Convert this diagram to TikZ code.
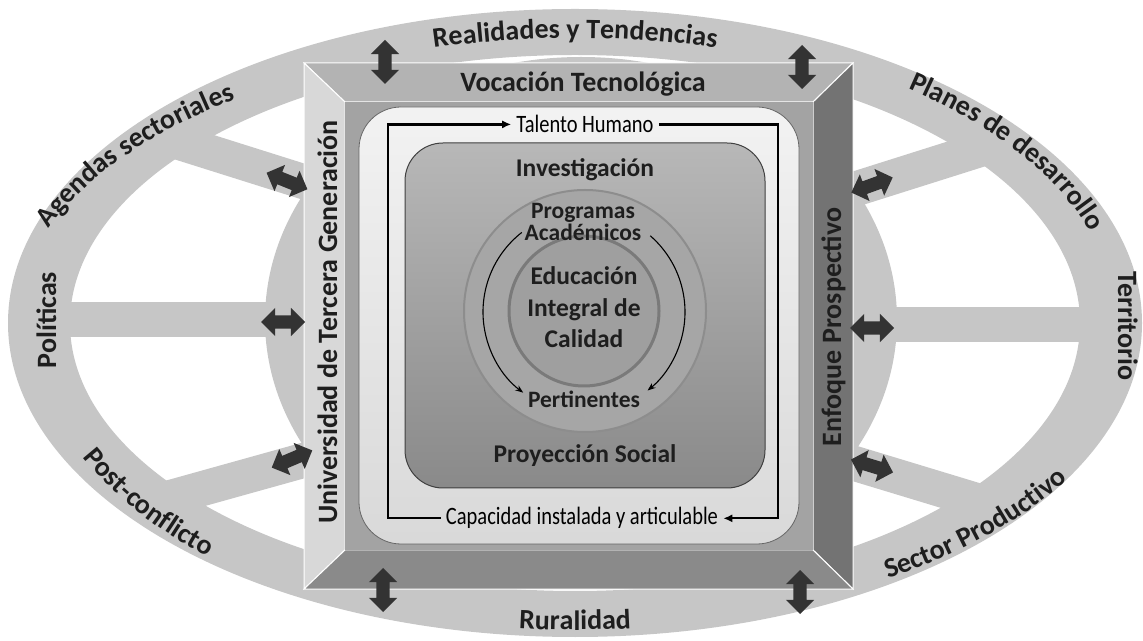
\documentclass[tikz,border=0pt]{standalone}
\usepackage{fontspec}
\setmainfont{Carlito}
\newfontfamily\condfont[FakeStretch=0.82]{Carlito}
\usetikzlibrary{shapes.arrows,decorations.text,arrows.meta}
\definecolor{ringgray}{HTML}{C6C6C6}
\definecolor{topbev}{HTML}{B3B3B3}
\definecolor{leftbev}{HTML}{D8D8D8}
\definecolor{rightbev}{HTML}{737373}
\definecolor{botbev}{HTML}{8A8A8A}
\definecolor{facegray}{HTML}{A3A3A3}
\definecolor{circgray}{HTML}{A6A6A6}
\definecolor{arrgray}{HTML}{333333}
\definecolor{txtgray}{HTML}{1E1E1E}
\newcommand\ringfnt{\fontsize{28}{30}\selectfont\bfseries}
\begin{document}
\begin{tikzpicture}[x=1pt,y=1pt,
	dblarr/.style={double arrow,fill=arrgray,minimum height=44pt,inner xsep=0pt,inner ysep=6.5pt,double arrow head extend=7.5pt},
	spoke/.style={ringgray,line width=35pt},
	bevel/.style={draw=white,line width=1pt},
	ringtxt/.style={font=\ringfnt,text=txtgray,inner sep=0pt},
	innertxt/.style={font=\fontsize{25.5}{31.5}\selectfont\bfseries,text=txtgray,inner sep=0pt,align=center},
	looptxt/.style={font=\condfont\fontsize{25}{30}\selectfont,text=black,inner sep=5pt},
	loopln/.style={line width=2.2pt,-{Latex[length=9pt,width=8pt]}}]
	\useasboundingbox (0,0) rectangle (1143,640);
	\draw[spoke] (40,320)--(330,320);
	\draw[spoke] (830,315)--(1105,315);
	\draw[spoke] (165,502)--(330,450);
	\draw[spoke] (165,141)--(330,187);
	\draw[spoke] (985,492)--(830,443);
	\draw[spoke] (985,137)--(830,184);
	\fill[ringgray] (581,320) ellipse[x radius=316,y radius=263];
	\fill[ringgray,even odd rule] (575,317) ellipse[x radius=567,y radius=314] (575,317) ellipse[x radius=505,y radius=268];
	\path[decorate,decoration={text along path,text align=center,text color=txtgray,text={|\ringfnt|Realidades y Tendencias}}] ([shift={(120:540 and 285)}]575,317) arc[start angle=120,end angle=60,x radius=540,y radius=285];
	\path[decorate,decoration={text along path,text align=center,text color=txtgray,text={|\ringfnt|Ruralidad}}] ([shift={(250:560 and 307)}]575,317) arc[start angle=250,end angle=290,x radius=560,y radius=307];
	\path[decorate,decoration={text along path,text color=txtgray,text={|\ringfnt|Agendas sectoriales}}] ([shift={(160.5:558 and 282)}]575,317) arc[start angle=160.5,end angle=100,x radius=558,y radius=282];
	\path[decorate,decoration={text along path,text color=txtgray,text={|\ringfnt|Planes de desarrollo}}] ([shift={(52:541 and 298)}]575,317) arc[start angle=52,end angle=-5,x radius=541,y radius=298];
	\path[decorate,decoration={text along path,text color=txtgray,text={|\ringfnt|Post-conflicto}}] ([shift={(205:543 and 318)}]575,317) arc[start angle=205,end angle=260,x radius=543,y radius=318];
	\path[decorate,decoration={text along path,text color=txtgray,text={|\ringfnt|Sector Productivo}}] ([shift={(-57:575 and 305)}]575,317) arc[start angle=-57,end angle=0,x radius=575,y radius=305];
	\node[ringtxt,rotate=90,anchor=base] (pol) at (56,320) {Políticas};
	\node[ringtxt,rotate=-90,anchor=base] (ter) at (1118,314) {Territorio};
	\fill[topbev,bevel] (304,577)--(853,577)--(813,538)--(345,538)--cycle;
	\fill[leftbev,bevel] (304,577)--(345,538)--(345,90)--(304,51)--cycle;
	\fill[rightbev,bevel] (853,577)--(853,51)--(813,90)--(813,538)--cycle;
	\fill[botbev,bevel] (304,51)--(345,90)--(813,90)--(853,51)--cycle;
	\fill[facegray] (345,90) rectangle (813,538);
	\node[ringtxt,anchor=base] (voc) at (583,548) {Vocación Tecnológica};
	\node[ringtxt,rotate=90,anchor=base] (utg) at (337,318) {Universidad de Tercera Generación};
	\node[ringtxt,rotate=90,anchor=base] (enf) at (841,313) {Enfoque Prospectivo};
	\shade[top color=white!95!black,bottom color=white!85!black,draw=black!60,line width=0.8pt,rounded corners=42pt] (359,96) rectangle (799,533);
	\shade[top color=black!28,bottom color=black!46,draw=black!75,line width=1pt,rounded corners=38pt] (405,152) rectangle (765,497);
	\draw[circgray!85!black,fill=circgray,line width=2pt] (585,329) circle[radius=121];
	\draw[black!52,fill=circgray!96!black,line width=3pt] (584,329) circle[radius=75];
	\node[innertxt,anchor=base] (inv) at (585,463) {Investigación};
	\node[innertxt,anchor=base] (proy) at (585,177) {Proyección Social};
	\node[innertxt,font=\fontsize{23.5}{22}\selectfont\bfseries,anchor=base] (prog) at (583,399) {Programas\\Académicos};
	\node[innertxt,anchor=base] (edu) at (584,292) {Educación\\Integral de\\Calidad};
	\node[innertxt,font=\fontsize{23.5}{22}\selectfont\bfseries,anchor=base] (pert) at (584,232) {Pertinentes};
	\coordinate (acL) at ([shift={(128:101)}]584,328);
	\coordinate (acR) at ([shift={(49:101)}]584,328);
	\draw[line width=1.1pt,-{Stealth[length=8pt]}] (acL) arc[start angle=128,end angle=233,radius=101];
	\draw[line width=1.1pt,-{Stealth[length=8pt]}] (acR) arc[start angle=49,end angle=-51,radius=101];
	\node[looptxt,anchor=base] (th) at (585,507) {Talento Humano};
	\node[looptxt,anchor=base] (ca) at (582,115) {Capacidad instalada y articulable};
	\coordinate (lpL) at (388,320);
	\coordinate (lpR) at (778,320);
	\draw[loopln] (ca.west) -| (lpL) |- (th.west);
	\draw[loopln] (th.east) -| (lpR) |- (ca.east);
	\node[dblarr,rotate=90] (aT1) at (385,578) {};
	\node[dblarr,rotate=90] (aT2) at (802,573) {};
	\node[dblarr,rotate=90] (aB1) at (383,50) {};
	\node[dblarr,rotate=90] (aB2) at (800,48) {};
	\node[dblarr,rotate=-22] (aL1) at (287,459) {};
	\node[dblarr] (aL2) at (283,318) {};
	\node[dblarr,rotate=23] (aL3) at (292,181) {};
	\node[dblarr,rotate=20] (aR1) at (872,455) {};
	\node[dblarr] (aR2) at (872,312) {};
	\node[dblarr,rotate=-17] (aR3) at (872,174) {};
\end{tikzpicture}
\end{document}
